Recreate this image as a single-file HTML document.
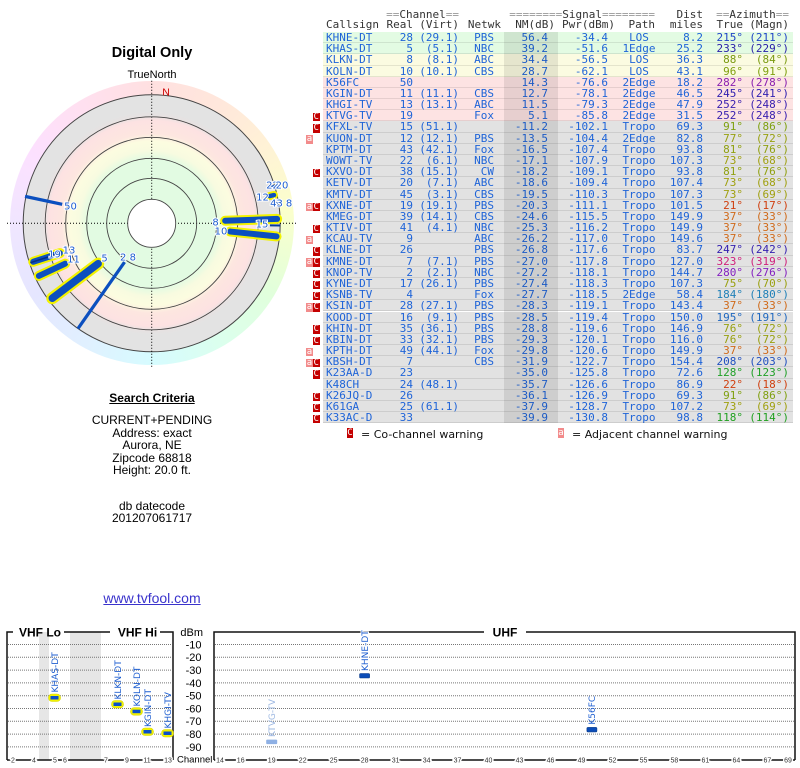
<!DOCTYPE html>
<html><head><meta charset="utf-8">
<style>
html,body{margin:0;padding:0;background:#fff;}
#pg{position:relative;width:800px;height:768px;overflow:hidden;background:#fff;font-family:"Liberation Sans",sans-serif;}
.t{position:absolute;left:0;top:0;width:800px;height:768px;font:11px/11.18px "DejaVu Sans Mono",monospace;color:#1f64d8;}
.rw{position:absolute;left:323px;width:470px;height:11.18px;}
.rw::after{content:"";position:absolute;left:0;right:0;bottom:0;height:1px;background:rgba(0,0,0,0.09);}
.rw>span,.hd>span{position:absolute;top:0;white-space:pre;}
.c1{left:3px}.c2{right:380px}.c3{right:334px}.c4{right:299px}.c5{right:245px}.c6{right:185px}
.c7{left:291px;width:50px;text-align:center}.c8{right:90px}.c9{right:50px}.c10{right:4px}
.g{background:#e3fbe3}.y{background:#fbfbe1}.p{background:#fde3e3}.x{background:#e2e2e2}
.hd{position:absolute;left:323px;width:470px;height:11.18px;color:#333;}
.q{color:#999}
.mk{position:absolute;width:7px;height:8.4px;font:9px/8.4px "DejaVu Sans Mono",monospace;color:#fff;text-align:center;}
.mC{left:312.7px;background:#c40000}.ma{left:306px;background:#f28b8b}
.nm{position:absolute;left:504px;top:32px;width:54px;height:391.3px;background:rgba(0,0,0,0.085);}
.lg{position:absolute;top:427.5px;font:11px/13px "DejaVu Sans",sans-serif;color:#111;white-space:pre;}
.sc{position:absolute;left:52px;width:200px;text-align:center;font-size:12px;line-height:12.6px;color:#000;}
</style></head><body><div id="pg">

<!-- polar ring -->
<div style="position:absolute;left:9.7px;top:81.3px;width:284px;height:284px;border-radius:50%;background:conic-gradient(from 0deg,hsl(0,100%,94%) 0deg,hsl(20,100%,93%) 30deg,hsl(40,100%,92%) 55deg,hsl(65,100%,90%) 85deg,hsl(110,100%,93%) 120deg,hsl(150,100%,93%) 150deg,hsl(185,100%,92%) 180deg,hsl(210,100%,94%) 210deg,hsl(240,100%,95%) 240deg,hsl(265,100%,95%) 270deg,hsl(295,100%,94%) 300deg,hsl(330,100%,94%) 330deg,hsl(360,100%,94%) 360deg);"></div>

<svg style="position:absolute;left:0;top:0" width="310" height="380" font-family="Liberation Sans, sans-serif">
<defs>
<radialGradient id="rg" gradientUnits="userSpaceOnUse" cx="151.7" cy="223.3" r="128.5">
<stop offset="0" stop-color="#fff"/><stop offset="0.18" stop-color="#fff"/>
<stop offset="0.19" stop-color="#e2fbe2"/><stop offset="0.50" stop-color="#e2fbe2"/>
<stop offset="0.57" stop-color="#f8fbe0"/><stop offset="0.64" stop-color="#fcfce0"/>
<stop offset="0.70" stop-color="#fde6e0"/><stop offset="0.80" stop-color="#fde2e2"/>
<stop offset="0.84" stop-color="#e6e2e2"/><stop offset="0.87" stop-color="#e3e3e3"/>
<stop offset="1" stop-color="#e3e3e3"/>
</radialGradient>
</defs>
<text x="152" y="57" text-anchor="middle" font-size="14.5" font-weight="bold" fill="#000">Digital Only</text>
<text x="152" y="78" text-anchor="middle" font-size="11" fill="#000">TrueNorth</text>
<circle cx="151.7" cy="223.3" r="128.5" fill="url(#rg)" stroke="#444" stroke-width="1"/>
<g stroke="#000" stroke-width="1" stroke-dasharray="1 2">
<line x1="7" y1="223.3" x2="296" y2="223.3"/>
<line x1="151.7" y1="80.7" x2="151.7" y2="368"/>
</g>
<g fill="none" stroke="#444" stroke-width="0.9">
<circle cx="151.7" cy="223.3" r="106.5"/>
<circle cx="151.7" cy="223.3" r="86"/>
<circle cx="151.7" cy="223.3" r="65"/>
<circle cx="151.7" cy="223.3" r="45"/>
</g>
<circle cx="151.7" cy="223.3" r="24" fill="#fff" stroke="#444" stroke-width="0.9"/>
<text x="166" y="95.5" text-anchor="middle" font-size="10.5" fill="#cc0000">N</text>

<g transform="translate(151.7 223.3)">
<line transform="rotate(125)" x1="47.3" y1="0" x2="128.5" y2="0" stroke="#0b4fbf" stroke-width="3.2"/>
<line transform="rotate(192)" x1="91.5" y1="0" x2="129.5" y2="0" stroke="#0b4fbf" stroke-width="3.2"/>
<g stroke-linecap="round">
<line transform="rotate(143)" x1="67" y1="0" x2="124.5" y2="0" stroke="#f2f200" stroke-width="12"/>
<line transform="rotate(143)" x1="67" y1="0" x2="124.5" y2="0" stroke="#0b4fbf" stroke-width="7.5"/>
<line transform="rotate(155)" x1="95.5" y1="0" x2="124.5" y2="0" stroke="#f2f200" stroke-width="10"/>
<line transform="rotate(155)" x1="95.5" y1="0" x2="124.5" y2="0" stroke="#0b4fbf" stroke-width="6"/>
<line transform="rotate(162)" x1="96.5" y1="0" x2="124.5" y2="0" stroke="#f2f200" stroke-width="10"/>
<line transform="rotate(162)" x1="96.5" y1="0" x2="124.5" y2="0" stroke="#0b4fbf" stroke-width="6"/>
<line transform="rotate(162)" x1="101" y1="0" x2="127" y2="0" stroke="#062f80" stroke-width="1.5"/>
<line transform="rotate(-2)" x1="73.5" y1="0" x2="125.5" y2="0" stroke="#f2f200" stroke-width="10"/>
<line transform="rotate(-2)" x1="73.5" y1="0" x2="125.5" y2="0" stroke="#0b4fbf" stroke-width="6"/>
<line transform="rotate(6)" x1="79" y1="0" x2="125.5" y2="0" stroke="#f2f200" stroke-width="10"/>
<line transform="rotate(6)" x1="79" y1="0" x2="125.5" y2="0" stroke="#0b4fbf" stroke-width="6"/>
<line transform="rotate(-13)" x1="121" y1="0" x2="125.5" y2="0" stroke="#f2f200" stroke-width="8"/>
<line transform="rotate(-13)" x1="121" y1="0" x2="125.5" y2="0" stroke="#0b4fbf" stroke-width="4.5"/>
</g>
<line transform="rotate(1)" x1="118.3" y1="0" x2="128.5" y2="0" stroke="#083a9a" stroke-width="2"/>
<line transform="rotate(-9)" x1="124" y1="0" x2="128.5" y2="0" stroke="#0b4fbf" stroke-width="2"/>
<line transform="rotate(-17)" x1="124.5" y1="0" x2="128.5" y2="0" stroke="#0b4fbf" stroke-width="2"/>
</g>
<g font-family="DejaVu Sans, sans-serif" font-size="10" fill="#1f5fd0" text-anchor="middle" stroke="#fff" stroke-width="2" paint-order="stroke">
<text x="128" y="260.3">2 8</text>
<text x="104.5" y="261.6">5</text>
<text x="215.5" y="225.3">8</text>
<text x="221" y="234.6">10</text>
<text x="70.5" y="209.3">50</text>
<text x="73.5" y="262.6">11</text>
<text x="69" y="253.6">13</text>
<text x="54.5" y="257.6">19</text>
<text x="262" y="227.6">15</text>
<text x="262.5" y="200.3">12</text>
<text x="276.5" y="206.3">43</text>
<text x="289" y="206.3">8</text>
<text x="272.5" y="188.6">22</text>
<text x="282" y="188.6">20</text>
</g>
</svg>

<!-- search criteria -->
<div class="sc" style="top:391px;font-weight:bold;line-height:14px;"><span style="text-decoration:underline">Search Criteria</span></div>
<div class="sc" style="top:414px;">CURRENT+PENDING<br>Address: exact<br>Aurora, NE<br>Zipcode 68818<br>Height: 20.0 ft.</div>
<div class="sc" style="top:499.7px;">db datecode<br>201207061717</div>
<div class="sc" style="top:590px;font-size:14px;line-height:16px;color:#3a33cc;text-decoration:underline;">www.tvfool.com</div>

<!-- table -->
<div class="t">
<div class="hd" style="top:9.1px"><span class="c3"><span class="q">==</span>Channel<span class="q">==</span></span><span style="right:138px"><span class="q">========</span>Signal<span class="q">========</span></span><span class="c8">Dist</span><span class="c10"><span class="q">==</span>Azimuth<span class="q">==</span></span></div>
<div class="hd" style="top:19.4px"><span class="c1">Callsign</span><span class="c2">Real</span><span class="c3">(Virt)</span><span style="right:292px">Netwk</span><span style="right:238px">NM(dB)</span><span style="right:178px">Pwr(dBm)</span><span style="right:138px">Path</span><span class="c8">miles</span><span class="c9">True</span><span class="c10">(Magn)</span></div>

<div class="rw g" style="top:32px"><span class="c1">KHNE-DT</span><span class="c2">28</span><span class="c3">(29.1)</span><span class="c4">PBS</span><span class="c5">56.4</span><span class="c6">-34.4</span><span class="c7">LOS</span><span class="c8">8.2</span><span class="c9" style="color:#2044c8">215°</span><span class="c10" style="color:#2044c8">(211°)</span></div>
<div class="rw g" style="top:43.18px"><span class="c1">KHAS-DT</span><span class="c2">5</span><span class="c3">(5.1)</span><span class="c4">NBC</span><span class="c5">39.2</span><span class="c6">-51.6</span><span class="c7">1Edge</span><span class="c8">25.2</span><span class="c9" style="color:#2a20a8">233°</span><span class="c10" style="color:#2a20a8">(229°)</span></div>
<div class="rw y" style="top:54.36px"><span class="c1">KLKN-DT</span><span class="c2">8</span><span class="c3">(8.1)</span><span class="c4">ABC</span><span class="c5">34.4</span><span class="c6">-56.5</span><span class="c7">LOS</span><span class="c8">36.3</span><span class="c9" style="color:#7a9a10">88°</span><span class="c10" style="color:#7a9a10">(84°)</span></div>
<div class="rw y" style="top:65.54px"><span class="c1">KOLN-DT</span><span class="c2">10</span><span class="c3">(10.1)</span><span class="c4">CBS</span><span class="c5">28.7</span><span class="c6">-62.1</span><span class="c7">LOS</span><span class="c8">43.1</span><span class="c9" style="color:#80a010">96°</span><span class="c10" style="color:#80a010">(91°)</span></div>
<div class="rw p" style="top:76.72px"><span class="c1">K56FC</span><span class="c2">50</span><span class="c5">14.3</span><span class="c6">-76.6</span><span class="c7">2Edge</span><span class="c8">18.2</span><span class="c9" style="color:#8a20b0">282°</span><span class="c10" style="color:#8a20b0">(278°)</span></div>
<div class="rw p" style="top:87.9px"><span class="c1">KGIN-DT</span><span class="c2">11</span><span class="c3">(11.1)</span><span class="c4">CBS</span><span class="c5">12.7</span><span class="c6">-78.1</span><span class="c7">2Edge</span><span class="c8">46.5</span><span class="c9" style="color:#3020b0">245°</span><span class="c10" style="color:#3020b0">(241°)</span></div>
<div class="rw p" style="top:99.08px"><span class="c1">KHGI-TV</span><span class="c2">13</span><span class="c3">(13.1)</span><span class="c4">ABC</span><span class="c5">11.5</span><span class="c6">-79.3</span><span class="c7">2Edge</span><span class="c8">47.9</span><span class="c9" style="color:#3a20b0">252°</span><span class="c10" style="color:#3a20b0">(248°)</span></div>
<div class="rw p" style="top:110.26px"><span class="c1">KTVG-TV</span><span class="c2">19</span><span class="c4">Fox</span><span class="c5">5.1</span><span class="c6">-85.8</span><span class="c7">2Edge</span><span class="c8">31.5</span><span class="c9" style="color:#3a20b0">252°</span><span class="c10" style="color:#3a20b0">(248°)</span></div>
<div class="rw x" style="top:121.44px"><span class="c1">KFXL-TV</span><span class="c2">15</span><span class="c3">(51.1)</span><span class="c5">-11.2</span><span class="c6">-102.1</span><span class="c7">Tropo</span><span class="c8">69.3</span><span class="c9" style="color:#80a010">91°</span><span class="c10" style="color:#80a010">(86°)</span></div>
<div class="rw x" style="top:132.62px"><span class="c1">KUON-DT</span><span class="c2">12</span><span class="c3">(12.1)</span><span class="c4">PBS</span><span class="c5">-13.5</span><span class="c6">-104.4</span><span class="c7">2Edge</span><span class="c8">82.8</span><span class="c9" style="color:#98a010">77°</span><span class="c10" style="color:#98a010">(72°)</span></div>
<div class="rw x" style="top:143.8px"><span class="c1">KPTM-DT</span><span class="c2">43</span><span class="c3">(42.1)</span><span class="c4">Fox</span><span class="c5">-16.5</span><span class="c6">-107.4</span><span class="c7">Tropo</span><span class="c8">93.8</span><span class="c9" style="color:#90a010">81°</span><span class="c10" style="color:#90a010">(76°)</span></div>
<div class="rw x" style="top:154.98px"><span class="c1">WOWT-TV</span><span class="c2">22</span><span class="c3">(6.1)</span><span class="c4">NBC</span><span class="c5">-17.1</span><span class="c6">-107.9</span><span class="c7">Tropo</span><span class="c8">107.3</span><span class="c9" style="color:#a0a010">73°</span><span class="c10" style="color:#a0a010">(68°)</span></div>
<div class="rw x" style="top:166.16px"><span class="c1">KXVO-DT</span><span class="c2">38</span><span class="c3">(15.1)</span><span class="c4">CW</span><span class="c5">-18.2</span><span class="c6">-109.1</span><span class="c7">Tropo</span><span class="c8">93.8</span><span class="c9" style="color:#90a010">81°</span><span class="c10" style="color:#90a010">(76°)</span></div>
<div class="rw x" style="top:177.34px"><span class="c1">KETV-DT</span><span class="c2">20</span><span class="c3">(7.1)</span><span class="c4">ABC</span><span class="c5">-18.6</span><span class="c6">-109.4</span><span class="c7">Tropo</span><span class="c8">107.4</span><span class="c9" style="color:#a0a010">73°</span><span class="c10" style="color:#a0a010">(68°)</span></div>
<div class="rw x" style="top:188.52px"><span class="c1">KMTV-DT</span><span class="c2">45</span><span class="c3">(3.1)</span><span class="c4">CBS</span><span class="c5">-19.5</span><span class="c6">-110.3</span><span class="c7">Tropo</span><span class="c8">107.3</span><span class="c9" style="color:#a0a010">73°</span><span class="c10" style="color:#a0a010">(69°)</span></div>
<div class="rw x" style="top:199.7px"><span class="c1">KXNE-DT</span><span class="c2">19</span><span class="c3">(19.1)</span><span class="c4">PBS</span><span class="c5">-20.3</span><span class="c6">-111.1</span><span class="c7">Tropo</span><span class="c8">101.5</span><span class="c9" style="color:#d04010">21°</span><span class="c10" style="color:#d04010">(17°)</span></div>
<div class="rw x" style="top:210.88px"><span class="c1">KMEG-DT</span><span class="c2">39</span><span class="c3">(14.1)</span><span class="c4">CBS</span><span class="c5">-24.6</span><span class="c6">-115.5</span><span class="c7">Tropo</span><span class="c8">149.9</span><span class="c9" style="color:#d06a1a">37°</span><span class="c10" style="color:#d06a1a">(33°)</span></div>
<div class="rw x" style="top:222.06px"><span class="c1">KTIV-DT</span><span class="c2">41</span><span class="c3">(4.1)</span><span class="c4">NBC</span><span class="c5">-25.3</span><span class="c6">-116.2</span><span class="c7">Tropo</span><span class="c8">149.9</span><span class="c9" style="color:#d06a1a">37°</span><span class="c10" style="color:#d06a1a">(33°)</span></div>
<div class="rw x" style="top:233.24px"><span class="c1">KCAU-TV</span><span class="c2">9</span><span class="c4">ABC</span><span class="c5">-26.2</span><span class="c6">-117.0</span><span class="c7">Tropo</span><span class="c8">149.6</span><span class="c9" style="color:#d06a1a">37°</span><span class="c10" style="color:#d06a1a">(33°)</span></div>
<div class="rw x" style="top:244.42px"><span class="c1">KLNE-DT</span><span class="c2">26</span><span class="c4">PBS</span><span class="c5">-26.8</span><span class="c6">-117.6</span><span class="c7">Tropo</span><span class="c8">83.7</span><span class="c9" style="color:#3420b0">247°</span><span class="c10" style="color:#3420b0">(242°)</span></div>
<div class="rw x" style="top:255.6px"><span class="c1">KMNE-DT</span><span class="c2">7</span><span class="c3">(7.1)</span><span class="c4">PBS</span><span class="c5">-27.0</span><span class="c6">-117.8</span><span class="c7">Tropo</span><span class="c8">127.0</span><span class="c9" style="color:#d0207a">323°</span><span class="c10" style="color:#d0207a">(319°)</span></div>
<div class="rw x" style="top:266.78px"><span class="c1">KNOP-TV</span><span class="c2">2</span><span class="c3">(2.1)</span><span class="c4">NBC</span><span class="c5">-27.2</span><span class="c6">-118.1</span><span class="c7">Tropo</span><span class="c8">144.7</span><span class="c9" style="color:#8420c0">280°</span><span class="c10" style="color:#8420c0">(276°)</span></div>
<div class="rw x" style="top:277.96px"><span class="c1">KYNE-DT</span><span class="c2">17</span><span class="c3">(26.1)</span><span class="c4">PBS</span><span class="c5">-27.4</span><span class="c6">-118.3</span><span class="c7">Tropo</span><span class="c8">107.3</span><span class="c9" style="color:#9aa010">75°</span><span class="c10" style="color:#9aa010">(70°)</span></div>
<div class="rw x" style="top:289.14px"><span class="c1">KSNB-TV</span><span class="c2">4</span><span class="c4">Fox</span><span class="c5">-27.7</span><span class="c6">-118.5</span><span class="c7">2Edge</span><span class="c8">58.4</span><span class="c9" style="color:#2080b8">184°</span><span class="c10" style="color:#2080b8">(180°)</span></div>
<div class="rw x" style="top:300.32px"><span class="c1">KSIN-DT</span><span class="c2">28</span><span class="c3">(27.1)</span><span class="c4">PBS</span><span class="c5">-28.3</span><span class="c6">-119.1</span><span class="c7">Tropo</span><span class="c8">143.4</span><span class="c9" style="color:#d06a1a">37°</span><span class="c10" style="color:#d06a1a">(33°)</span></div>
<div class="rw x" style="top:311.5px"><span class="c1">KOOD-DT</span><span class="c2">16</span><span class="c3">(9.1)</span><span class="c4">PBS</span><span class="c5">-28.5</span><span class="c6">-119.4</span><span class="c7">Tropo</span><span class="c8">150.0</span><span class="c9" style="color:#2068c0">195°</span><span class="c10" style="color:#2068c0">(191°)</span></div>
<div class="rw x" style="top:322.68px"><span class="c1">KHIN-DT</span><span class="c2">35</span><span class="c3">(36.1)</span><span class="c4">PBS</span><span class="c5">-28.8</span><span class="c6">-119.6</span><span class="c7">Tropo</span><span class="c8">146.9</span><span class="c9" style="color:#98a010">76°</span><span class="c10" style="color:#98a010">(72°)</span></div>
<div class="rw x" style="top:333.86px"><span class="c1">KBIN-DT</span><span class="c2">33</span><span class="c3">(32.1)</span><span class="c4">PBS</span><span class="c5">-29.3</span><span class="c6">-120.1</span><span class="c7">Tropo</span><span class="c8">116.0</span><span class="c9" style="color:#98a010">76°</span><span class="c10" style="color:#98a010">(72°)</span></div>
<div class="rw x" style="top:345.04px"><span class="c1">KPTH-DT</span><span class="c2">49</span><span class="c3">(44.1)</span><span class="c4">Fox</span><span class="c5">-29.8</span><span class="c6">-120.6</span><span class="c7">Tropo</span><span class="c8">149.9</span><span class="c9" style="color:#d06a1a">37°</span><span class="c10" style="color:#d06a1a">(33°)</span></div>
<div class="rw x" style="top:356.22px"><span class="c1">KBSH-DT</span><span class="c2">7</span><span class="c4">CBS</span><span class="c5">-31.9</span><span class="c6">-122.7</span><span class="c7">Tropo</span><span class="c8">154.4</span><span class="c9" style="color:#2050c0">208°</span><span class="c10" style="color:#2050c0">(203°)</span></div>
<div class="rw x" style="top:367.4px"><span class="c1">K23AA-D</span><span class="c2">23</span><span class="c5">-35.0</span><span class="c6">-125.8</span><span class="c7">Tropo</span><span class="c8">72.6</span><span class="c9" style="color:#20a028">128°</span><span class="c10" style="color:#20a028">(123°)</span></div>
<div class="rw x" style="top:378.58px"><span class="c1">K48CH</span><span class="c2">24</span><span class="c3">(48.1)</span><span class="c5">-35.7</span><span class="c6">-126.6</span><span class="c7">Tropo</span><span class="c8">86.9</span><span class="c9" style="color:#d04010">22°</span><span class="c10" style="color:#d04010">(18°)</span></div>
<div class="rw x" style="top:389.76px"><span class="c1">K26JQ-D</span><span class="c2">26</span><span class="c5">-36.1</span><span class="c6">-126.9</span><span class="c7">Tropo</span><span class="c8">69.3</span><span class="c9" style="color:#80a010">91°</span><span class="c10" style="color:#80a010">(86°)</span></div>
<div class="rw x" style="top:400.94px"><span class="c1">K61GA</span><span class="c2">25</span><span class="c3">(61.1)</span><span class="c5">-37.9</span><span class="c6">-128.7</span><span class="c7">Tropo</span><span class="c8">107.2</span><span class="c9" style="color:#a0a010">73°</span><span class="c10" style="color:#a0a010">(69°)</span></div>
<div class="rw x" style="top:412.12px"><span class="c1">K33AC-D</span><span class="c2">33</span><span class="c5">-39.9</span><span class="c6">-130.8</span><span class="c7">Tropo</span><span class="c8">98.8</span><span class="c9" style="color:#20a020">118°</span><span class="c10" style="color:#20a020">(114°)</span></div>

<div class="nm"></div>

<div class="mk mC" style="top:113.06px">C</div>
<div class="mk mC" style="top:124.24px">C</div>
<div class="mk ma" style="top:135.42px">a</div>
<div class="mk mC" style="top:168.96px">C</div>
<div class="mk ma" style="top:202.5px">a</div><div class="mk mC" style="top:202.5px">C</div>
<div class="mk mC" style="top:224.86px">C</div>
<div class="mk ma" style="top:236.04px">a</div>
<div class="mk mC" style="top:247.22px">C</div>
<div class="mk ma" style="top:258.4px">a</div><div class="mk mC" style="top:258.4px">C</div>
<div class="mk mC" style="top:269.58px">C</div>
<div class="mk mC" style="top:280.76px">C</div>
<div class="mk mC" style="top:291.94px">C</div>
<div class="mk ma" style="top:303.12px">a</div><div class="mk mC" style="top:303.12px">C</div>
<div class="mk mC" style="top:325.48px">C</div>
<div class="mk mC" style="top:336.66px">C</div>
<div class="mk ma" style="top:347.84px">a</div>
<div class="mk ma" style="top:359.02px">a</div><div class="mk mC" style="top:359.02px">C</div>
<div class="mk mC" style="top:370.2px">C</div>
<div class="mk mC" style="top:392.56px">C</div>
<div class="mk mC" style="top:403.74px">C</div>
<div class="mk mC" style="top:414.92px">C</div>

<div class="mk mC" style="left:346.7px;top:427.7px;height:10.6px;line-height:10.6px;width:6.6px;">C</div>
<div class="lg" style="left:361px;">= Co-channel warning</div>
<div class="mk ma" style="left:557.7px;top:428.3px;height:10px;line-height:10px;width:6.6px;">a</div>
<div class="lg" style="left:572px;">= Adjacent channel warning</div>
</div>

<!-- bottom spectrum chart -->
<svg style="position:absolute;left:0;top:600px" width="800" height="168" font-family="Liberation Sans, sans-serif">
<rect x="39" y="32" width="10" height="128" fill="#e6e6e6"/>
<rect x="70" y="32" width="31" height="128" fill="#e6e6e6"/>
<g stroke="#777" stroke-width="1" stroke-dasharray="1 1" fill="none">
<path d="M8 44.5H172M8 57.3H172M8 70.1H172M8 82.9H172M8 95.7H172M8 108.5H172M8 121.3H172M8 134.1H172M8 146.9H172"/>
<path d="M215 44.5H794M215 57.3H794M215 70.1H794M215 82.9H794M215 95.7H794M215 108.5H794M215 121.3H794M215 134.1H794M215 146.9H794"/>
</g>
<g stroke="#111" stroke-width="1.5" fill="none">
<path d="M7 160V32H13M64 32H110M160 32H173V160"/>
<path d="M7 160H173"/>
<path d="M214 160V32H484M526 32H795V160"/>
<path d="M214 160H795"/>
</g>
<g font-size="12" font-weight="bold" fill="#000" text-anchor="middle">
<text x="40" y="36.3">VHF Lo</text>
<text x="137.5" y="36.3">VHF Hi</text>
<text x="505" y="36.3">UHF</text>
</g>
<g font-size="11" fill="#000" text-anchor="end">
<text x="203" y="36">dBm</text>
<text x="201.5" y="48.4">-10</text>
<text x="201.5" y="61.2">-20</text>
<text x="201.5" y="74">-30</text>
<text x="201.5" y="86.8">-40</text>
<text x="201.5" y="99.6">-50</text>
<text x="201.5" y="112.4">-60</text>
<text x="201.5" y="125.2">-70</text>
<text x="201.5" y="138">-80</text>
<text x="201.5" y="150.8">-90</text>
</g>
<text x="177" y="162.5" font-size="9.5" fill="#000">Channel</text>
<g font-size="7" fill="#333" text-anchor="middle" stroke="#fff" stroke-width="3" paint-order="stroke">
<text x="13" y="162.5">2</text><text x="34" y="162.5">4</text><text x="55" y="162.5">5</text><text x="65" y="162.5">6</text>
<text x="106" y="162.5">7</text><text x="127" y="162.5">9</text><text x="147" y="162.5">11</text><text x="168" y="162.5">13</text>
<text x="220" y="162.5">14</text><text x="240.7" y="162.5">16</text><text x="271.7" y="162.5">19</text><text x="302.7" y="162.5">22</text>
<text x="333.6" y="162.5">25</text><text x="364.6" y="162.5">28</text><text x="395.6" y="162.5">31</text><text x="426.6" y="162.5">34</text>
<text x="457.5" y="162.5">37</text><text x="488.5" y="162.5">40</text><text x="519.5" y="162.5">43</text><text x="550.5" y="162.5">46</text>
<text x="581.5" y="162.5">49</text><text x="612.5" y="162.5">52</text><text x="643.5" y="162.5">55</text><text x="674.4" y="162.5">58</text>
<text x="705.4" y="162.5">61</text><text x="736.4" y="162.5">64</text><text x="767.4" y="162.5">67</text><text x="788" y="162.5">69</text>
</g>
<!-- bars -->
<g>
<rect x="48.5" y="94" width="12" height="7.5" rx="3.5" fill="#f2f200" stroke="#d8d800" stroke-width="0.6"/>
<rect x="50.5" y="96" width="8" height="3.5" fill="#0b50c8"/>
<rect x="111.5" y="100.5" width="12" height="7.5" rx="3.5" fill="#f2f200" stroke="#d8d800" stroke-width="0.6"/>
<rect x="113.5" y="102.5" width="8" height="3.5" fill="#0b50c8"/>
<rect x="130.5" y="107.7" width="12" height="7.5" rx="3.5" fill="#f2f200" stroke="#d8d800" stroke-width="0.6"/>
<rect x="132.5" y="109.7" width="8" height="3.5" fill="#0b50c8"/>
<rect x="141.5" y="128" width="12" height="7.5" rx="3.5" fill="#f2f200" stroke="#d8d800" stroke-width="0.6"/>
<rect x="143.5" y="130" width="8" height="3.5" fill="#0b50c8"/>
<rect x="161.5" y="129.5" width="12" height="7.5" rx="3.5" fill="#f2f200" stroke="#d8d800" stroke-width="0.6"/>
<rect x="163.5" y="131.5" width="8" height="3.5" fill="#0b50c8"/>
<rect x="359.6" y="73.5" width="10" height="4.5" rx="1" fill="#0b4cb8" stroke="#073888" stroke-width="0.6"/>
<rect x="586.9" y="127.4" width="10" height="4.5" rx="1" fill="#0b4cb8" stroke="#073888" stroke-width="0.6"/>
<rect x="266.2" y="139.6" width="11" height="4.5" rx="1" fill="#8eb0e4"/>
</g>
<g font-family="DejaVu Sans, sans-serif" font-size="9" fill="#1f5fd0">
<text transform="translate(54.5 92.5) rotate(-90)" x="0" y="3.3">KHAS-DT</text>
<text transform="translate(117.5 99.5) rotate(-90)" x="0" y="3.3">KLKN-DT</text>
<text transform="translate(136.5 106.5) rotate(-90)" x="0" y="3.3">KOLN-DT</text>
<text transform="translate(147.5 127) rotate(-90)" x="0" y="3.3">KGIN-DT</text>
<text transform="translate(167.5 128.5) rotate(-90)" x="0" y="3.3">KHGI-TV</text>
<text transform="translate(364.6 71) rotate(-90)" x="0" y="3.3" stroke="#fff" stroke-width="2" paint-order="stroke">KHNE-DT</text>
<text transform="translate(591.9 124.6) rotate(-90)" x="0" y="3.3">K56FC</text>
<text transform="translate(271.7 137) rotate(-90)" x="0" y="3.3" fill="#9db8e2">KTVG-TV</text>
</g>
</svg>

</div></body></html>
